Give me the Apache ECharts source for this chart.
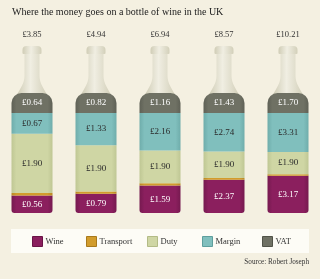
<!DOCTYPE html>
<html><head><meta charset="utf-8">
<script src="https://cdn.jsdelivr.net/npm/echarts@6/dist/echarts.min.js"></script>
<style>html,body{margin:0;padding:0;background:#f4f0e1;}#c{width:320px;height:279px;}</style>
</head><body><div id="c"></div>
<script>
var totals = [3.85, 4.94, 6.94, 8.57, 10.21];
var totalLabels = ['£3.85', '£4.94', '£6.94', '£8.57', '£10.21'];
var wine = [0.56, 0.79, 1.59, 2.37, 3.17];
var transport = [0.08, 0.10, 0.13, 0.13, 0.13];
var duty = [1.90, 1.90, 1.90, 1.90, 1.90];
var margin = [0.67, 1.33, 2.16, 2.74, 3.31];
var vat = [0.64, 0.82, 1.16, 1.43, 1.70];
var seriesNames = ['Wine', 'Transport', 'Duty', 'Margin', 'VAT'];

var FONT = 'Liberation Serif';
var colors = ['#8b1f5e', '#d29c2c', '#cfd6a4', '#80bfbd', '#6f7164'];
var edges = ['#761a50', '#b98925', '#bfc794', '#6fadab', '#5f6156'];
var borders = ['#6a1446', '#a8791c', '#b3bb86', '#5e9f9d', '#515348'];
var labelColors = ['#fff', '#fff', '#2a2a2a', '#2a2a2a', '#fff'];
var values = [wine, transport, duty, margin, vat];

function share(arr) { return arr.map(function (v, i) { return v / totals[i]; }); }

var chart = echarts.init(document.getElementById('c'));
var legendLefts = [32, 86, 147, 202, 262];

var series = [{
  type: 'custom',
  z: 1,
  silent: true,
  data: totalLabels.map(function (t, i) { return [i, 1]; }),
  renderItem: function (params, api) {
    var p = api.coord([api.value(0), 1]);
    var cx = p[0], y = p[1];
    var d = 'M' + (cx - 7.5) + ' ' + (y - 41) +
      ' L' + (cx - 7.5) + ' ' + (y - 17) +
      ' C' + (cx - 7.5) + ' ' + (y - 9) + ' ' + (cx - 12.5) + ' ' + (y - 4) + ' ' + (cx - 15) + ' ' + (y + 2) +
      ' L' + (cx + 15) + ' ' + (y + 2) +
      ' C' + (cx + 12.5) + ' ' + (y - 4) + ' ' + (cx + 7.5) + ' ' + (y - 9) + ' ' + (cx + 7.5) + ' ' + (y - 17) +
      ' L' + (cx + 7.5) + ' ' + (y - 41) + ' Z';
    var grad = new echarts.graphic.LinearGradient(0, 0, 1, 0, [
      { offset: 0, color: '#d0cdb6' }, { offset: 0.45, color: '#f0eee2' }, { offset: 1, color: '#d3d0ba' }
    ]);
    return {
      type: 'group',
      children: [
        { type: 'path', shape: { pathData: d }, style: { fill: grad } },
        { type: 'rect', shape: { x: cx - 9.5, y: y - 47, width: 19, height: 8, r: [4, 4, 1, 1] }, style: { fill: grad } },
        { type: 'text', style: { text: totalLabels[params.dataIndex], x: cx, y: y - 58, align: 'center', verticalAlign: 'middle', fill: '#333', font: '8.5px "' + FONT + '"' } }
      ]
    };
  }
}];

seriesNames.forEach(function (name, k) {
  var radius = k === 4 ? [10, 10, 0, 0] : (k === 0 ? [0, 0, 3, 3] : 0);
  series.push({
    name: name,
    type: 'bar',
    stack: 'bottle',
    z: 2,
    barWidth: 41,
    data: share(values[k]),
    itemStyle: {
      color: new echarts.graphic.LinearGradient(0, 0, 1, 0, [
        { offset: 0, color: edges[k] }, { offset: 0.12, color: colors[k] },
        { offset: 0.88, color: colors[k] }, { offset: 1, color: edges[k] }
      ]),
      borderRadius: radius
    },
    label: {
      show: k !== 1,
      position: 'inside',
      color: labelColors[k],
      fontFamily: FONT,
      fontSize: 9,
      formatter: function (p) { return '£' + values[k][p.dataIndex].toFixed(2); }
    },
    emphasis: { disabled: true }
  });
});

chart.setOption({
  backgroundColor: '#f4f0e1',
  animation: false,
  title: [{
    text: 'Where the money goes on a bottle of wine in the UK',
    left: 12, top: 7, padding: 0,
    textStyle: { fontFamily: FONT, fontSize: 10, fontWeight: 'normal', color: '#222' }
  }, {
    text: 'Source: Robert Joseph',
    right: 11, top: 259, padding: 0,
    textStyle: { fontFamily: FONT, fontSize: 7.2, fontWeight: 'normal', color: '#333' }
  }],
  graphic: [{
    type: 'rect', left: 11, top: 229, shape: { width: 298, height: 24 },
    style: { fill: '#fdfcf6' }, z: 0
  }],
  legend: seriesNames.map(function (n, i) {
    return {
      data: [n], left: legendLefts[i], top: 236, padding: 0,
      itemWidth: 10, itemHeight: 10, icon: 'rect', selectedMode: false,
      itemStyle: { color: colors[i], borderColor: borders[i], borderWidth: 1 },
      textStyle: { fontFamily: FONT, fontSize: 8.5, color: '#333', padding: [0, 0, 0, -2] }
    };
  }),
  grid: { left: 0, right: 0, top: 93, bottom: 66 },
  xAxis: { type: 'category', data: totalLabels, show: false },
  yAxis: { type: 'value', min: 0, max: 1, show: false },
  series: series
});
</script></body></html>
